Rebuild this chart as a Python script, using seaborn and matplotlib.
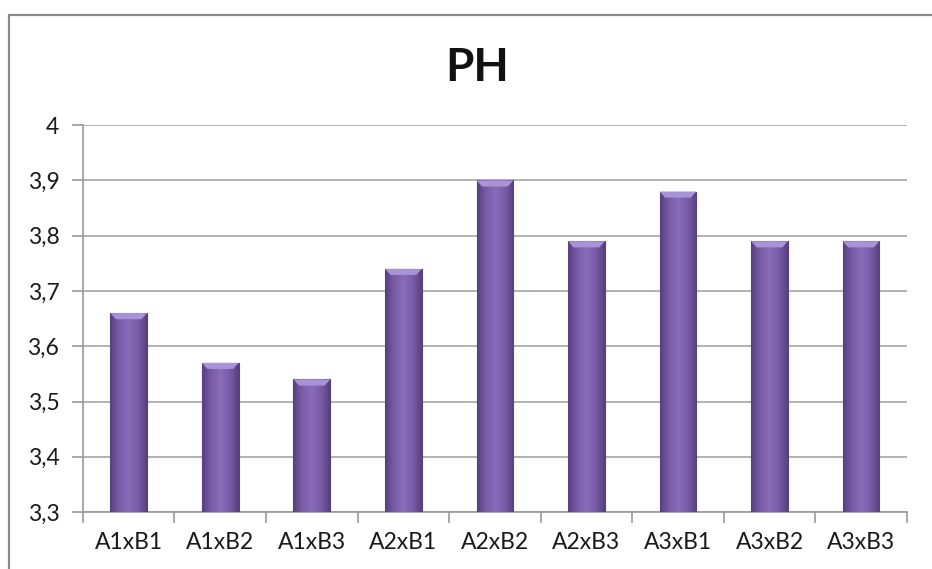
import numpy as np
import pandas as pd
import matplotlib
matplotlib.use("Agg")
import matplotlib.pyplot as plt
import seaborn as sns
from matplotlib.patches import Rectangle, Polygon
from matplotlib.colors import LinearSegmentedColormap

# Data
categories = ["A1xB1", "A1xB2", "A1xB3", "A2xB1", "A2xB2", "A2xB3", "A3xB1", "A3xB2", "A3xB3"]
ph_values = [3.66, 3.57, 3.54, 3.74, 3.90, 3.79, 3.88, 3.79, 3.79]
y_ticks = [3.3, 3.4, 3.5, 3.6, 3.7, 3.8, 3.9, 4.0]
y_labels = ["3,3", "3,4", "3,5", "3,6", "3,7", "3,8", "3,9", "4"]

df = pd.DataFrame({"combo": categories, "ph": ph_values})

sns.set_style("white")
plt.rcParams["font.family"] = ["Lato", "DejaVu Sans"]

fig = plt.figure(figsize=(9.32, 5.69), dpi=100)
ax = fig.add_axes([0.089, 0.100, 0.884, 0.680])

sns.barplot(data=df, x="combo", y="ph", color="#7b5ea7", width=0.4,
            saturation=1, ax=ax, zorder=3)

# Gradient fill for the bars (Excel bevel look)
grad = LinearSegmentedColormap.from_list(
    "purp", ["#58407e", "#7a5da8", "#8a6cb8", "#7a5da8", "#58407e"])
gimg = np.linspace(0, 1, 64).reshape(1, -1)
for p in ax.patches[:]:
    x0 = p.get_x()
    w, h = p.get_width(), p.get_height()
    y0, y1 = 3.3, p.get_y() + h
    im = ax.imshow(gimg, cmap=grad, aspect="auto", extent=(x0, x0 + w, y0, y1),
                   zorder=4, interpolation="bicubic")
    im.set_clip_path(p)
    # top bevel highlight
    bev = Polygon([(x0, y1), (x0 + w, y1), (x0 + w - 0.06, y1 - 0.011),
                   (x0 + 0.06, y1 - 0.011)], closed=True,
                  facecolor="#a993d8", lw=0, zorder=5)
    ax.add_patch(bev)
    p.set_edgecolor("#55407a")
    p.set_linewidth(0.8)

ax.set_xlim(-0.5, len(categories) - 0.5)
ax.set_ylim(3.3, 4.0)

# Axes styling
ax.set_yticks(y_ticks)
ax.set_yticklabels(y_labels, fontsize=16.5, color="#1a1a1a")
ax.tick_params(axis="x", labelsize=16.5, labelcolor="#1a1a1a", length=0, pad=14)
ax.tick_params(axis="y", length=8, width=1.2, color="#9a9a9a", pad=9, left=True)
ax.grid(axis="y", color="#a6a6a6", lw=1.2, zorder=0)
ax.set_axisbelow(True)
ax.set_xlabel("")
ax.set_ylabel("")
for s in ["top", "right"]:
    ax.spines[s].set_visible(False)
for s in ["left", "bottom"]:
    ax.spines[s].set_color("#9a9a9a")
    ax.spines[s].set_linewidth(1.2)

# Minor ticks on x at category boundaries
ax.set_xticks(np.arange(-0.5, len(categories) - 0.4, 1), minor=True)
ax.tick_params(axis="x", which="minor", length=8, width=1.2, color="#9a9a9a",
               bottom=True)

fig.text(477 / 932, 1 - 68 / 569, "PH", fontsize=33, fontweight="bold",
         color="#111111", ha="center", va="center")

# Chart area border
fig.patches.append(Rectangle((9 / 932, -0.05), 1.1, 1 - 15 / 569 + 0.05,
                             transform=fig.transFigure, fill=False,
                             edgecolor="#8c8c8c", lw=1.6))

fig.savefig("out.png", dpi=100)
